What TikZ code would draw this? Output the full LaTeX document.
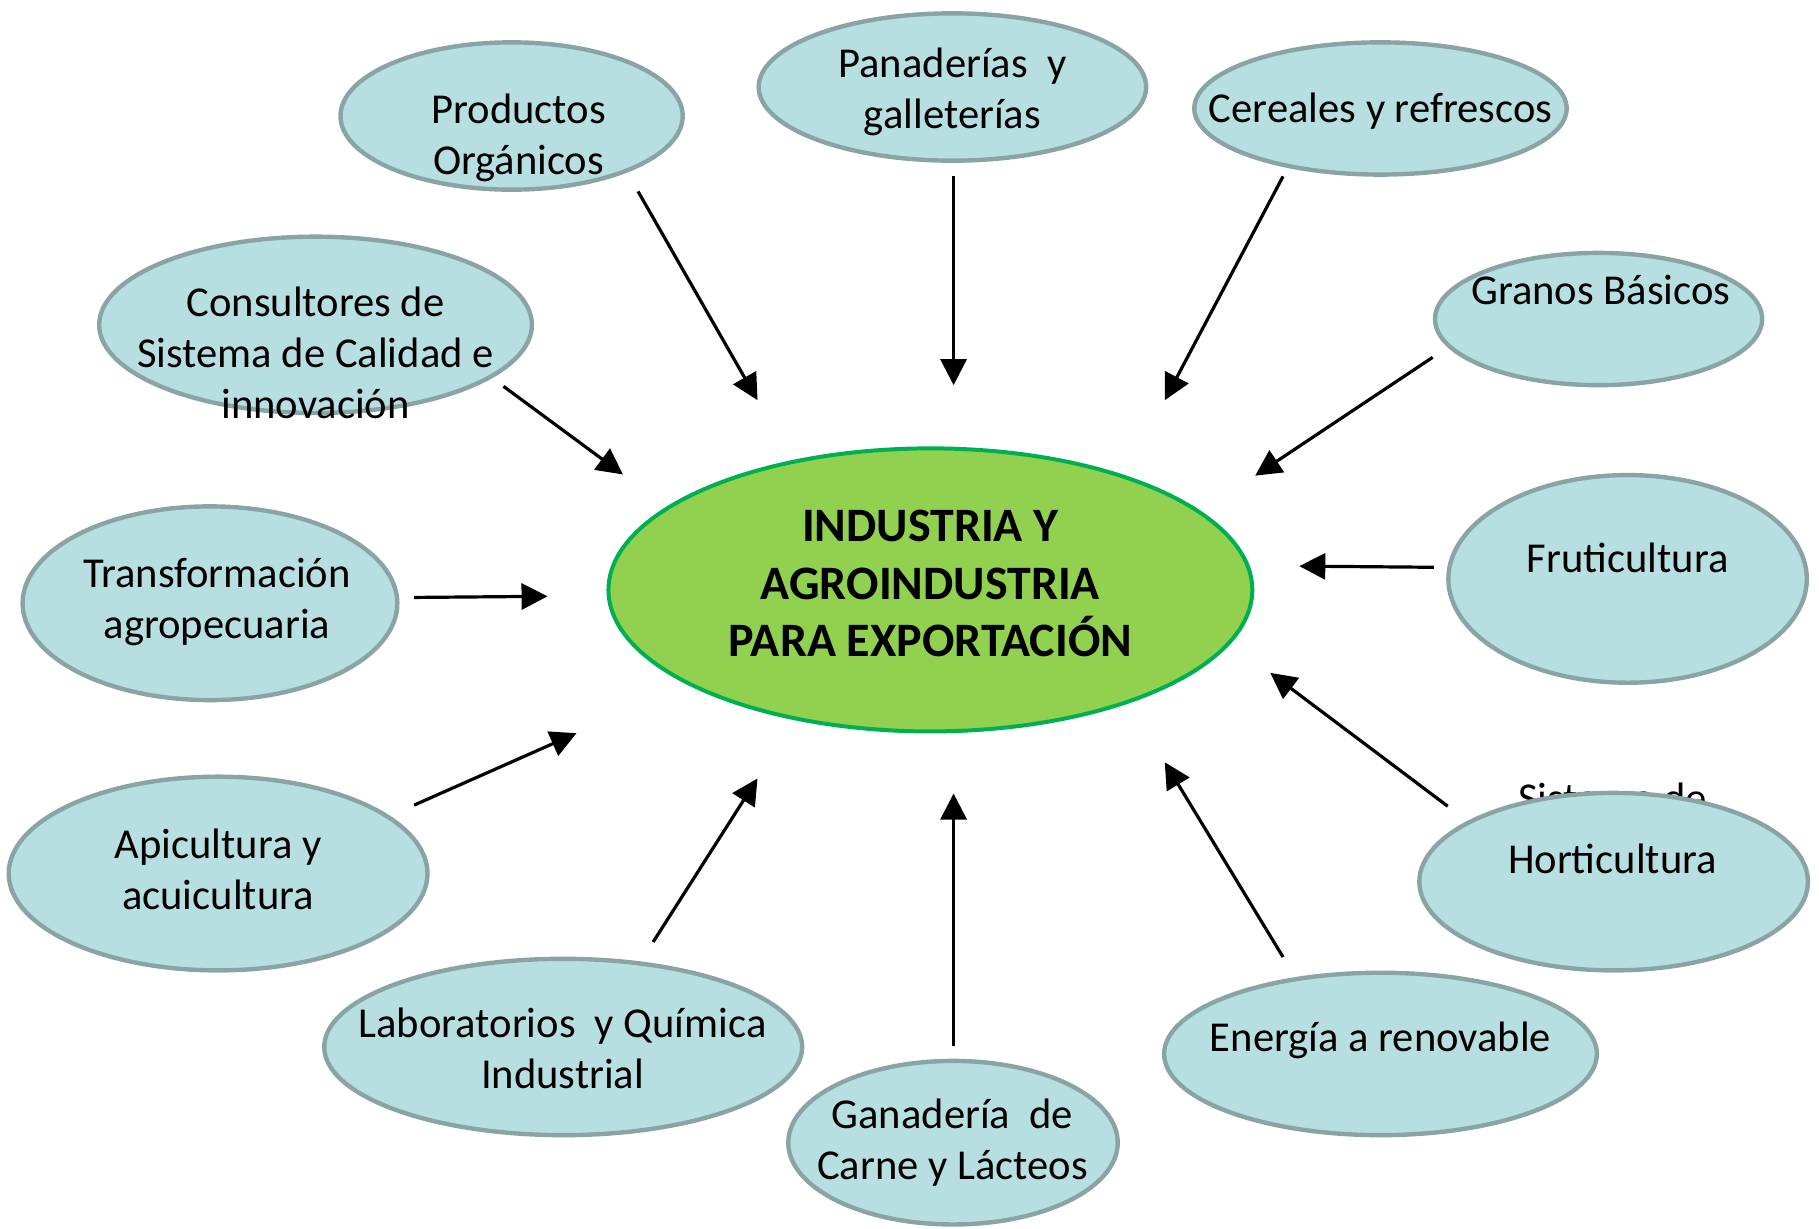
\documentclass[tikz,border=0pt]{standalone}
\usepackage{fontspec}
\setmainfont{Carlito}
\usetikzlibrary{shapes.geometric,arrows.meta}
\definecolor{bubfill}{HTML}{B7DFE2}
\definecolor{bubline}{HTML}{8AA4A6}
\definecolor{corefill}{HTML}{92D050}
\definecolor{coreline}{HTML}{00B050}
\begin{document}
\begin{tikzpicture}[x=0.58pt,y=-0.58pt,
  bubble/.style={ellipse, draw=bubline, fill=bubfill, line width=2.2pt, inner sep=0pt},
  esize/.style 2 args={minimum width={(#1)*0.58pt}, minimum height={(#2)*0.58pt}},
  txt/.style={align=center, font=\fontsize{21.3}{25.5}\selectfont, inner sep=0pt},
  coretxt/.style={align=center, font=\fontsize{24}{28.7}\selectfont\bfseries, inner sep=0pt},
  link/.style={line width=1.6pt, -{Triangle[length=13pt,width=13pt]}}]
\useasboundingbox (0,0) rectangle (1568,1059);

% text partly hidden behind the Horticultura ellipse
\node[txt, anchor=base] (hidden) at (1390,700) {Sistema de};

% ellipses
\node[bubble, esize={295}{127}] (prod) at (441,100) {};
\node[bubble, esize={334}{127}] (pan) at (821,75) {};
\node[bubble, esize={321}{114}] (cer) at (1190,93.5) {};
\node[bubble, esize={282}{114}] (gra) at (1378,275) {};
\node[bubble, esize={373}{152}] (con) at (272,280) {};
\node[bubble, esize={323}{167}] (tra) at (181,520) {};
\node[bubble, esize={361}{167}] (api) at (188,753) {};
\node[bubble, esize={412}{152}] (lab) at (485.5,902.5) {};
\node[bubble, esize={284}{141}] (gan) at (821.5,985) {};
\node[bubble, esize={373}{140}] (ene) at (1190,908.5) {};
\node[bubble, esize={335}{153}] (hor) at (1391,760) {};
\node[bubble, esize={309}{179}] (fru) at (1403,499) {};
\node[ellipse, draw=coreline, fill=corefill, line width=2pt, inner sep=0pt, esize={555}{244}] (core) at (802,508.5) {};

% texts
\node[txt] (tprod) at (447,118.5) {Productos\\Orgánicos};
\node[txt] (tpan) at (821,79.5) {Panaderías\ \ y\\galleterías};
\node[txt] (tcer) at (1190,96) {Cereales y refrescos};
\node[txt] (tgra) at (1380,250) {Granos Básicos};
\node[txt] (tcon) at (272,304) {Consultores de\\Sistema de Calidad e\\innovación};
\node[txt] (ttra) at (187,519) {Transformación\\agropecuaria};
\node[txt] (tapi) at (188,749) {Apicultura y\\acuicultura};
\node[txt] (tlab) at (485,904) {Laboratorios\ \ y Química\\Industrial};
\node[txt] (tgan) at (821,985) {Ganadería\ \ de\\Carne y Lácteos};
\node[txt] (tene) at (1190,897) {Energía a renovable};
\node[txt] (thor) at (1390,740) {Horticultura};
\node[txt] (tfru) at (1403,481) {Fruticultura};
\node[coretxt] (tcore) at (802,503) {INDUSTRIA Y\\AGROINDUSTRIA\\PARA EXPORTACIÓN};

% arrow end points
\coordinate (s1) at (550,165);  \coordinate (e1) at (653,345);
\coordinate (s2) at (822,152);  \coordinate (e2) at (822,332);
\coordinate (s3) at (1106,152); \coordinate (e3) at (1004,345);
\coordinate (s4) at (1235,308); \coordinate (e4) at (1082,410);
\coordinate (s5) at (1236,489); \coordinate (e5) at (1120,488);
\coordinate (s6) at (1248,695); \coordinate (e6) at (1095,580);
\coordinate (s7) at (1106,825); \coordinate (e7) at (1004,657);
\coordinate (s8) at (822,902);  \coordinate (e8) at (822,684);
\coordinate (s9) at (563,812);  \coordinate (e9) at (653,671);
\coordinate (s10) at (357,694); \coordinate (e10) at (497,632);
\coordinate (s11) at (357,515); \coordinate (e11) at (472,514);
\coordinate (s12) at (434,333); \coordinate (e12) at (537,409);

\foreach \i in {1,...,12} \draw[link] (s\i) -- (e\i);
\end{tikzpicture}
\end{document}
